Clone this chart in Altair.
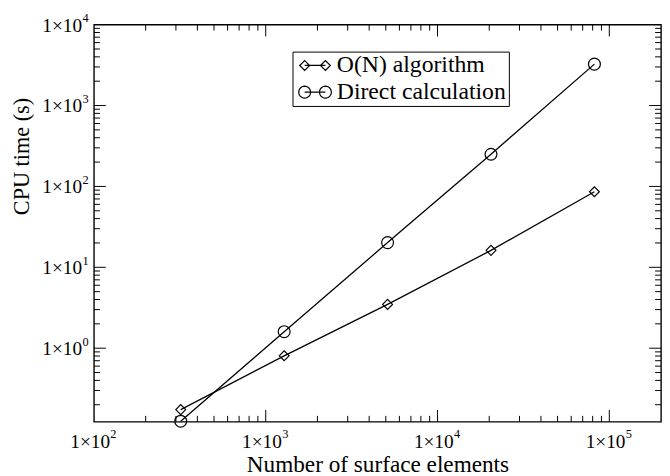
import math
import altair as alt
import pandas as pd

# ---------------- data ----------------
surface_elements = [320, 1280, 5120, 20480, 81920]
on_algorithm_time = [0.174, 0.805, 3.48, 16.2, 86.0]
direct_time = [0.125, 1.6, 20.2, 250.0, 3250.0]
series_names = ["O(N) algorithm", "Direct calculation"]

x_domain = [100, 200000]
y_domain = [0.123, 10000]

x_major_ticks = [1000, 10000, 100000]
x_minor_ticks = [m * 10 ** e for e in (2, 3, 4) for m in range(2, 10)]
y_major_ticks = [1, 10, 100, 1000]
y_minor_ticks = [m * 10.0 ** e for e in (-1, 0, 1, 2, 3) for m in range(2, 10)]

label_mantissa = "1×10"
x_label_values = [100, 1000, 10000, 100000]
x_label_exponents = ["2", "3", "4", "5"]
y_label_values = [1, 10, 100, 1000, 10000]
y_label_exponents = ["0", "1", "2", "3", "4"]

# ---------------- layout / style ----------------
W, H = 574, 402
FONT = "Liberation Serif"
MAJOR, MINOR = 12, 6

df = pd.DataFrame({
    "n": surface_elements + surface_elements,
    "t": on_algorithm_time + direct_time,
    "series": [series_names[0]] * len(surface_elements) + [series_names[1]] * len(surface_elements),
})

x_scale = alt.Scale(type="log", domain=x_domain, nice=False)
y_scale = alt.Scale(type="log", domain=y_domain, nice=False)

x_axis = alt.Axis(title="Number of surface elements", labels=False, ticks=False, domain=False,
                  grid=False, titleFont=FONT, titleFontSize=23.5, titleFontWeight="normal",
                  titleColor="black", titleBaseline="alphabetic", titleAlign="center",
                  titleX=W / 2, titleY=50)
y_axis = alt.Axis(title="CPU time (s)", labels=False, ticks=False, domain=False,
                  grid=False, titleFont=FONT, titleFontSize=22.5, titleFontWeight="normal",
                  titleColor="black", titleBaseline="alphabetic", titleAlign="center",
                  titleAngle=270, titleX=-66, titleY=133)


def X(field):
    return alt.X(f"{field}:Q", scale=x_scale, axis=x_axis)


def Y(field):
    return alt.Y(f"{field}:Q", scale=y_scale, axis=y_axis)


# legend symbols: marker - line - marker
def circle_ring(cx, r, n=28):
    pts = [(cx + r * math.cos(2 * math.pi * k / n), r * math.sin(2 * math.pi * k / n)) for k in range(n)]
    return "M" + "L".join(f"{a:.3f},{b:.3f}" for a, b in pts) + "Z"


def diamond(cx, r):
    return f"M{cx - r},0L{cx},{-r}L{cx + r},0L{cx},{r}Z"


S = 2.1
path_d = diamond(-S, 1) + f"M{-S},0L{S},0" + diamond(S, 1)
path_c = circle_ring(-S, 1.2) + f"M{-S},0L{S},0" + circle_ring(S, 1.2)

lines = alt.Chart(df).mark_line(color="black", strokeWidth=1.3).encode(
    x=X("n"), y=Y("t"), detail="series:N")

diamonds = alt.Chart(df).transform_filter(alt.datum.series == series_names[0]).mark_point(
    shape="diamond", size=100, filled=False, color="black", strokeWidth=1.2, opacity=1
).encode(x=X("n"), y=Y("t"))

circles = alt.Chart(df).transform_filter(alt.datum.series == series_names[1]).mark_point(
    shape="circle", size=144, filled=False, color="black", strokeWidth=1.2, opacity=1
).encode(x=X("n"), y=Y("t"))

legend_layer = alt.Chart(df).mark_point(filled=False, color="black", opacity=0).encode(
    x=X("n"), y=Y("t"),
    shape=alt.Shape("series:N", scale=alt.Scale(domain=series_names, range=[path_d, path_c]),
                    legend=alt.Legend(title=None, orient="none", legendX=201, legendY=27.3,
                                      direction="vertical", strokeColor="black", fillColor="white",
                                      padding=2, rowPadding=3, symbolSize=100,
                                      symbolStrokeColor="black", symbolStrokeWidth=1.2,
                                      symbolOpacity=1, symbolOffset=8.8, labelOffset=10,
                                      labelFont=FONT, labelFontSize=24, labelColor="black",
                                      labelLimit=400)))


def x_rules(values, y0, y1):
    d = pd.DataFrame({"v": values})
    return alt.Chart(d).mark_rule(color="black", strokeWidth=1).encode(
        x=X("v"), y=alt.value(y0), y2=alt.value(y1))


def y_rules(values, x0, x1):
    d = pd.DataFrame({"v": values})
    return alt.Chart(d).mark_rule(color="black", strokeWidth=1).encode(
        y=Y("v"), x=alt.value(x0), x2=alt.value(x1))


tick_layers = [
    x_rules(x_major_ticks, H, H - MAJOR), x_rules(x_minor_ticks, H, H - MINOR),
    x_rules(x_major_ticks, 0, MAJOR), x_rules(x_minor_ticks, 0, MINOR),
    y_rules(y_major_ticks, 0, MAJOR), y_rules(y_minor_ticks, 0, MINOR),
    y_rules(y_major_ticks, W, W - MAJOR), y_rules(y_minor_ticks, W, W - MINOR),
]

xlab = pd.DataFrame({"v": x_label_values, "base": [label_mantissa] * len(x_label_values),
                     "exp": x_label_exponents})
ylab = pd.DataFrame({"v": y_label_values, "base": [label_mantissa] * len(y_label_values),
                     "exp": y_label_exponents})

x_base = alt.Chart(xlab).mark_text(font=FONT, fontSize=19.5, align="right", baseline="alphabetic",
                                   dx=16.3, color="black").encode(
    x=X("v"), y=alt.value(H + 27), text="base:N")
x_exp = alt.Chart(xlab).mark_text(font=FONT, fontSize=12.5, align="left", baseline="alphabetic",
                                  dx=16.6, color="black").encode(
    x=X("v"), y=alt.value(H + 16), text="exp:N")
y_base = alt.Chart(ylab).mark_text(font=FONT, fontSize=19.5, align="right", baseline="alphabetic",
                                   dy=7, color="black").encode(
    y=Y("v"), x=alt.value(-12), text="base:N")
y_exp = alt.Chart(ylab).mark_text(font=FONT, fontSize=12.5, align="left", baseline="alphabetic",
                                  dy=-2.5, color="black").encode(
    y=Y("v"), x=alt.value(-11.7), text="exp:N")

chart = alt.layer(
    *tick_layers, lines, diamonds, circles, legend_layer, x_base, x_exp, y_base, y_exp
).properties(
    width=W, height=H,
    padding={"left": 87, "top": 14, "right": 1, "bottom": 52},
    autosize=alt.AutoSizeParams(type="none"),
    background="white",
).configure_view(stroke="black", strokeWidth=1.4)

chart.save("out.html", embed_options={"renderer": "svg", "actions": False})
